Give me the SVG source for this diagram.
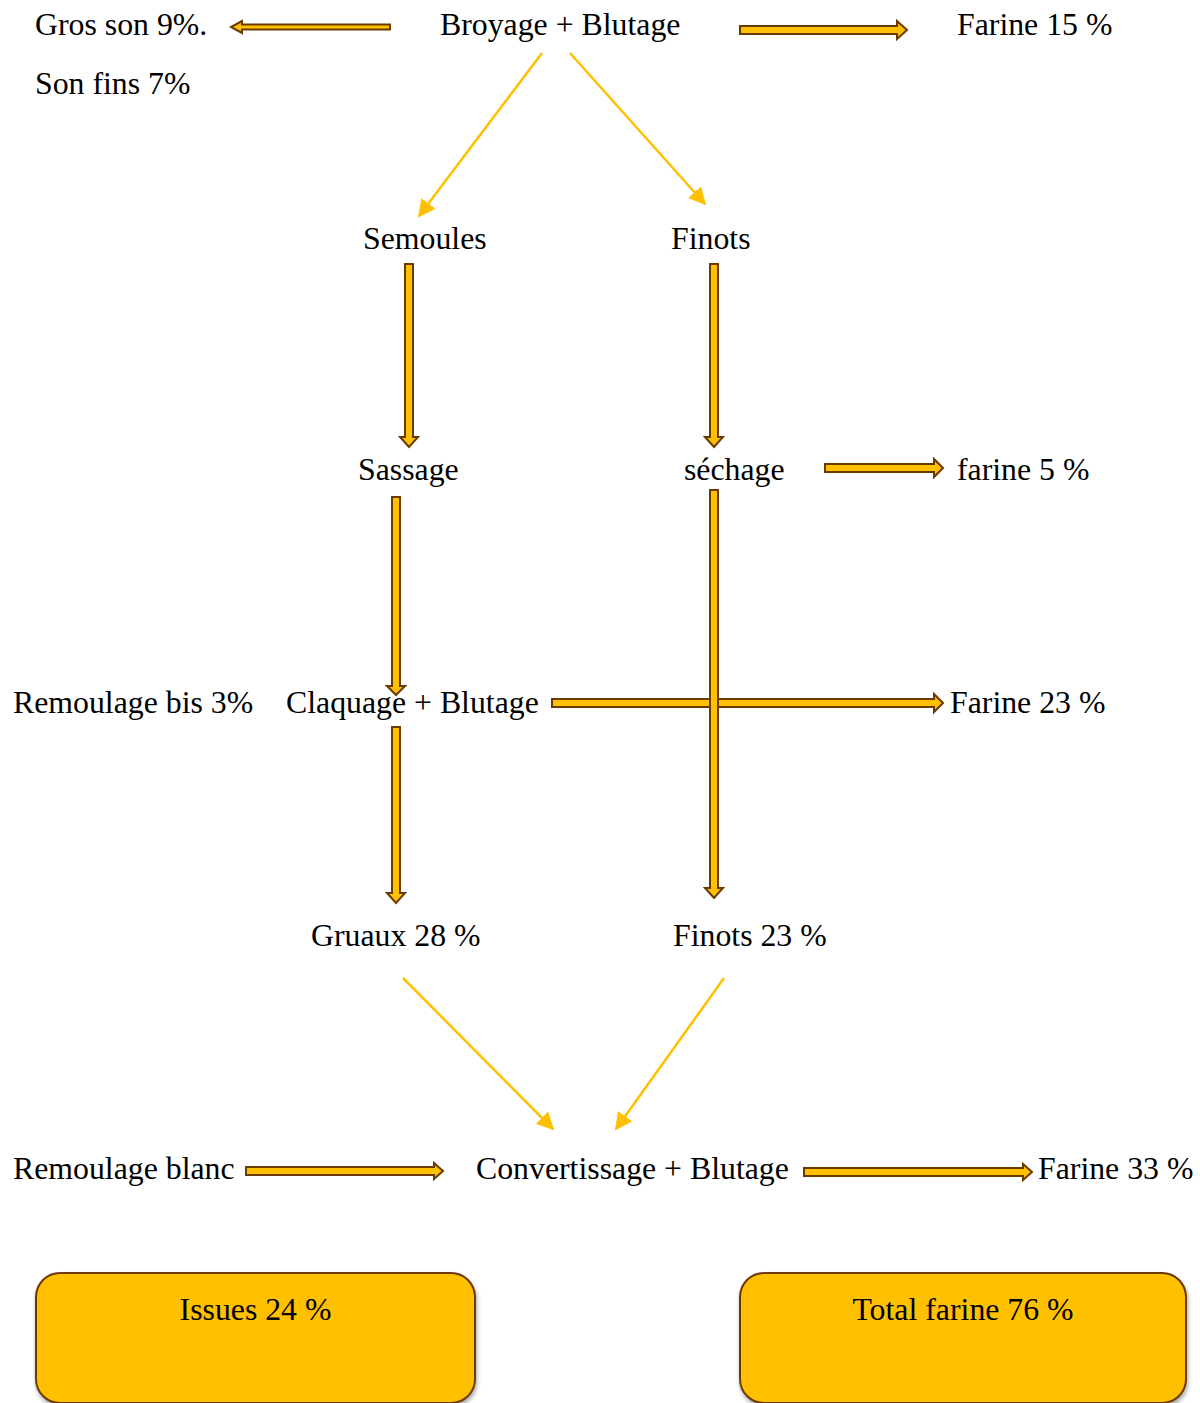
<svg xmlns="http://www.w3.org/2000/svg" width="1200" height="1403" viewBox="0 0 1200 1403">
<style>
text{font-family:"Liberation Serif","Times New Roman",serif;font-size:31.8px;fill:#000}
.blk{fill:#FFC000;stroke:#6B3A00;stroke-width:2;stroke-linejoin:miter}
.thin{stroke:#FFC000;stroke-width:2.5;fill:none}
.box{fill:#FFC000;stroke:#6B3A00;stroke-width:2}
</style>
<defs>
<marker id="ah" viewBox="0 0 10 10" refX="9" refY="5" markerWidth="7" markerHeight="7" orient="auto" markerUnits="strokeWidth">
<path d="M0,0 L10,5 L0,10 z" fill="#FFC000"/>
</marker>
<filter id="sh" x="-5%" y="-5%" width="110%" height="115%">
<feDropShadow dx="1" dy="3" stdDeviation="2" flood-color="#000" flood-opacity="0.35"/>
</filter>
</defs>
<g id="connectors">
<polygon class="blk" points="390,24.5 242,24.5 242,21 231,27 242,33 242,29.5 390,29.5"/>
<polygon class="blk" points="740,26 897,26 897,21 907,30 897,39 897,34 740,34"/>
<polygon class="blk" points="405,264 413,264 413,437 418,437 409,447 400,437 405,437"/>
<polygon class="blk" points="710,264 718,264 718,437 723,437 714,447 705,437 710,437"/>
<polygon class="blk" points="825,464 934,464 934,459 943,468 934,477 934,472 825,472"/>
<polygon class="blk" points="392,497 400,497 400,686 405,686 396,695 387,686 392,686"/>
<polygon class="blk" points="552,699 934,699 934,694 943,703 934,712 934,707 552,707"/>
<polygon class="blk" points="710,490 718,490 718,888 723,888 714,898 705,888 710,888"/>
<polygon class="blk" points="392,727 400,727 400,893 405,893 396,903 387,893 392,893"/>
<polygon class="blk" points="246,1167 434,1167 434,1163 443,1171 434,1179 434,1175 246,1175"/>
<polygon class="blk" points="804,1168 1023,1168 1023,1164 1032,1172 1023,1180 1023,1176 804,1176"/>
<line class="thin" x1="542" y1="53" x2="419" y2="216" marker-end="url(#ah)"/>
<line class="thin" x1="570" y1="53" x2="705" y2="204" marker-end="url(#ah)"/>
<line class="thin" x1="403" y1="978" x2="553" y2="1129" marker-end="url(#ah)"/>
<line class="thin" x1="724" y1="978" x2="616" y2="1129" marker-end="url(#ah)"/>
</g>
<g id="n-gros"><text x="35" y="35">Gros son 9%.</text></g>
<g id="n-sonfins"><text x="35" y="94">Son fins 7%</text></g>
<g id="n-broyage"><text x="440" y="35">Broyage + Blutage</text></g>
<g id="n-farine15"><text x="957" y="35">Farine 15 %</text></g>
<g id="n-semoules"><text x="363" y="249">Semoules</text></g>
<g id="n-finots"><text x="671" y="249">Finots</text></g>
<g id="n-sassage"><text x="358" y="480">Sassage</text></g>
<g id="n-sechage"><text x="684" y="480">séchage</text></g>
<g id="n-farine5"><text x="957" y="480">farine 5 %</text></g>
<g id="n-remoulbis"><text x="13" y="713">Remoulage bis 3%</text></g>
<g id="n-claquage"><text x="286" y="713">Claquage + Blutage</text></g>
<g id="n-farine23"><text x="950" y="713">Farine 23 %</text></g>
<g id="n-gruaux"><text x="311" y="946">Gruaux 28 %</text></g>
<g id="n-finots23"><text x="673" y="946">Finots 23 %</text></g>
<g id="n-remoulblanc"><text x="13" y="1179">Remoulage blanc</text></g>
<g id="n-convert"><text x="476" y="1179">Convertissage + Blutage</text></g>
<g id="n-farine33"><text x="1038" y="1179">Farine 33 %</text></g>
<g id="n-issues"><rect class="box" filter="url(#sh)" x="36" y="1273" width="439" height="130" rx="24"/><text x="255.5" y="1320" text-anchor="middle">Issues 24 %</text></g>
<g id="n-total"><rect class="box" filter="url(#sh)" x="740" y="1273" width="446" height="130" rx="24"/><text x="963" y="1320" text-anchor="middle">Total farine 76 %</text></g>
</svg>
